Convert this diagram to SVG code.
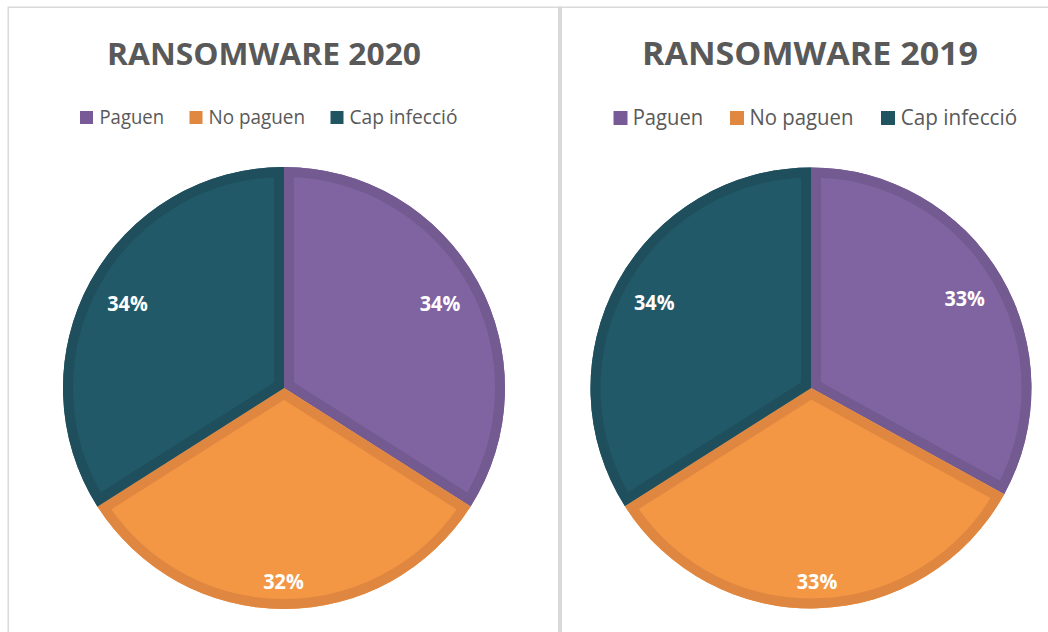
<svg xmlns="http://www.w3.org/2000/svg" width="1048" height="632" viewBox="0 0 1048 632">
<style>
.title{font-family:"Open Sans","Liberation Sans",sans-serif;font-weight:bold;fill:#595959;}
.leg{font-family:"Open Sans","Liberation Sans",sans-serif;fill:#595959;}
.pct{font-family:"Open Sans","Liberation Sans",sans-serif;font-weight:bold;fill:#FFFFFF;font-size:21px;}
.band{fill:none;stroke-width:20;}
.pf{fill:#8064A1;}.pb{stroke:#735A91;}
.of{fill:#F39745;}.ob{stroke:#DF8740;}
.tf{fill:#215968;}.tb{stroke:#1F4F5C;}
</style>
<defs>
<path id="L1" d="M284,388 L284,167 A221,221 0 0 1 470.6,506.4 Z"/>
<path id="L2" d="M284,388 L470.6,506.4 A221,221 0 0 1 97.4,506.4 Z"/>
<path id="L3" d="M284,388 L97.4,506.4 A221,221 0 0 1 284,167 Z"/>
<path id="R1" d="M811,388 L811,167.5 A220.5,220.5 0 0 1 1004.2,494.2 Z"/>
<path id="R2" d="M811,388 L1004.2,494.2 A220.5,220.5 0 0 1 624.8,506.1 Z"/>
<path id="R3" d="M811,388 L624.8,506.1 A220.5,220.5 0 0 1 811,167.5 Z"/>
<clipPath id="cL1"><use href="#L1"/></clipPath>
<clipPath id="cL2"><use href="#L2"/></clipPath>
<clipPath id="cL3"><use href="#L3"/></clipPath>
<clipPath id="cR1"><use href="#R1"/></clipPath>
<clipPath id="cR2"><use href="#R2"/></clipPath>
<clipPath id="cR3"><use href="#R3"/></clipPath>
</defs>
<rect x="0" y="0" width="1048" height="632" fill="#FFFFFF"/>
<g id="frames" fill="#D9D9D9">
<rect x="8" y="6.5" width="1040" height="1.5"/>
<rect x="7.5" y="6.5" width="1.5" height="626"/>
<rect x="558" y="6.5" width="4" height="626"/>
</g>
<g id="chart2020">
<text class="title" x="264" y="64.5" text-anchor="middle" font-size="30" textLength="314" lengthAdjust="spacingAndGlyphs">RANSOMWARE 2020</text>
<g id="legend2020">
<rect x="80" y="111" width="13" height="13" fill="#785A96"/>
<text class="leg" x="99.5" y="124" font-size="19.5" textLength="64.5" lengthAdjust="spacingAndGlyphs">Paguen</text>
<rect x="189.5" y="111" width="13" height="13" fill="#E0883F"/>
<text class="leg" x="208.5" y="124" font-size="19.5" textLength="96.5" lengthAdjust="spacingAndGlyphs">No paguen</text>
<rect x="330.5" y="111" width="13" height="13" fill="#215461"/>
<text class="leg" x="349.5" y="124" font-size="19.5" textLength="108" lengthAdjust="spacingAndGlyphs">Cap infecció</text>
</g>
<g id="s2020-paguen"><use href="#L1" class="pf"/><use href="#L1" class="band pb" clip-path="url(#cL1)"/></g>
<g id="s2020-nopaguen"><use href="#L2" class="of"/><use href="#L2" class="band ob" clip-path="url(#cL2)"/></g>
<g id="s2020-cap"><use href="#L3" class="tf"/><use href="#L3" class="band tb" clip-path="url(#cL3)"/></g>
<text class="pct" x="440" y="311" text-anchor="middle" textLength="40.5" lengthAdjust="spacingAndGlyphs">34%</text>
<text class="pct" x="283.5" y="589" text-anchor="middle" textLength="40.5" lengthAdjust="spacingAndGlyphs">32%</text>
<text class="pct" x="127.5" y="311" text-anchor="middle" textLength="40.5" lengthAdjust="spacingAndGlyphs">34%</text>
</g>
<g id="chart2019">
<text class="title" x="810" y="64.5" text-anchor="middle" font-size="31.5" textLength="336" lengthAdjust="spacingAndGlyphs">RANSOMWARE 2019</text>
<g id="legend2019">
<rect x="613.5" y="111" width="14" height="14" fill="#785A96"/>
<text class="leg" x="632.7" y="125" font-size="21" textLength="70.5" lengthAdjust="spacingAndGlyphs">Paguen</text>
<rect x="730" y="111" width="14" height="14" fill="#E0883F"/>
<text class="leg" x="749.5" y="125" font-size="21" textLength="104" lengthAdjust="spacingAndGlyphs">No paguen</text>
<rect x="881" y="111" width="14" height="14" fill="#215461"/>
<text class="leg" x="900.7" y="125" font-size="21" textLength="116.5" lengthAdjust="spacingAndGlyphs">Cap infecció</text>
</g>
<g id="s2019-paguen"><use href="#R1" class="pf"/><use href="#R1" class="band pb" clip-path="url(#cR1)"/></g>
<g id="s2019-nopaguen"><use href="#R2" class="of"/><use href="#R2" class="band ob" clip-path="url(#cR2)"/></g>
<g id="s2019-cap"><use href="#R3" class="tf"/><use href="#R3" class="band tb" clip-path="url(#cR3)"/></g>
<text class="pct" x="964.7" y="306" text-anchor="middle" textLength="40.5" lengthAdjust="spacingAndGlyphs">33%</text>
<text class="pct" x="817" y="589" text-anchor="middle" textLength="40.5" lengthAdjust="spacingAndGlyphs">33%</text>
<text class="pct" x="654.3" y="310" text-anchor="middle" textLength="40.5" lengthAdjust="spacingAndGlyphs">34%</text>
</g>
</svg>
